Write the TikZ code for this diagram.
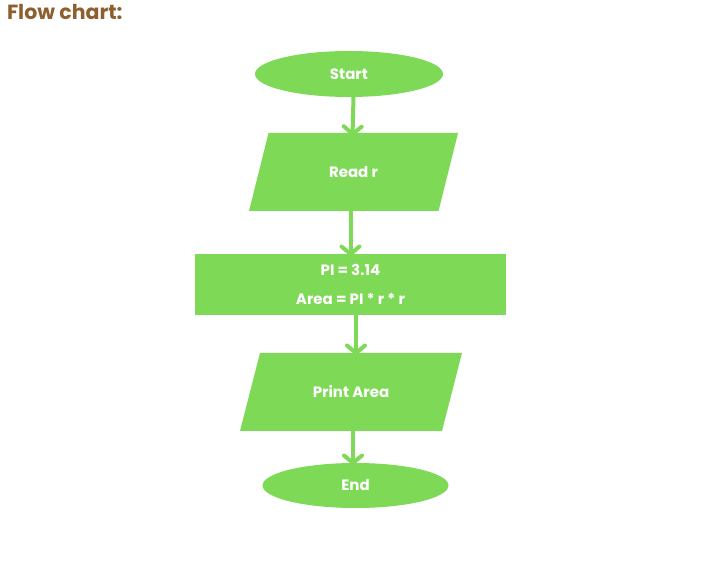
\documentclass[tikz,border=0pt]{standalone}
\usepackage{fontspec}
\setmainfont{Poppins}
\usetikzlibrary{shapes.geometric,arrows.meta,backgrounds}
\definecolor{flowgreen}{HTML}{7ED957}
\definecolor{titlebrown}{HTML}{8F5E2E}
\tikzset{
  every node/.style={inner sep=0pt, outer sep=0pt},
  txt/.style={text=white, font=\bfseries\fontsize{15}{29}\selectfont, align=center},
  term/.style={txt, ellipse, fill=flowgreen, minimum width=188pt, minimum height=46pt},
  io/.style={txt, rectangle, minimum height=78pt},
  slantfill/.style={fill=flowgreen},
  proc/.style={txt, rectangle, fill=flowgreen, minimum width=311pt, minimum height=61pt},
  conn/.style={draw=flowgreen, line width=4pt, line cap=round, line join=round,
               -{Straight Barb[length=7.5pt,width=18pt,line cap=round,line join=round]}}
}
\begin{document}
\begin{tikzpicture}[x=1pt,y=-1pt]
\useasboundingbox (0,0) rectangle (710,561);
\node[anchor=west, text=titlebrown, font=\bfseries\fontsize{20.5}{22}\selectfont] (title) at (7,12) {Flow chart:};
\node[term] (start) at (349,74) {Start};
\node[io, minimum width=209pt] (read) at (353.5,172) {Read r};
\node[proc] (calc) at (350.5,284.5) {PI = 3.14\\Area = PI * r * r};
\node[io, minimum width=222pt] (print) at (351,392) {Print Area};
\node[term, minimum width=186pt, minimum height=45pt] (end) at (355.5,485.5) {End};
\begin{scope}[on background layer]
\fill[slantfill] ([xshift=19.5pt]read.north west) -- (read.north east) -- ([xshift=-19.5pt]read.south east) -- (read.south west) -- cycle;
\fill[slantfill] ([xshift=20pt]print.north west) -- (print.north east) -- ([xshift=-20pt]print.south east) -- (print.south west) -- cycle;
\end{scope}
\draw[conn] (read.north |- start.south) -- ([xshift=-1pt,yshift=-3pt]read.north);
\draw[conn] (calc.north |- read.south) -- ([yshift=-2pt]calc.north);
\draw[conn] ([xshift=5pt]print.north |- calc.south) -- ([xshift=5pt,yshift=-2pt]print.north);
\draw[conn] ([xshift=2pt]print.south) -- ([xshift=-2.5pt,yshift=-2pt]end.north);
\end{tikzpicture}
\end{document}
